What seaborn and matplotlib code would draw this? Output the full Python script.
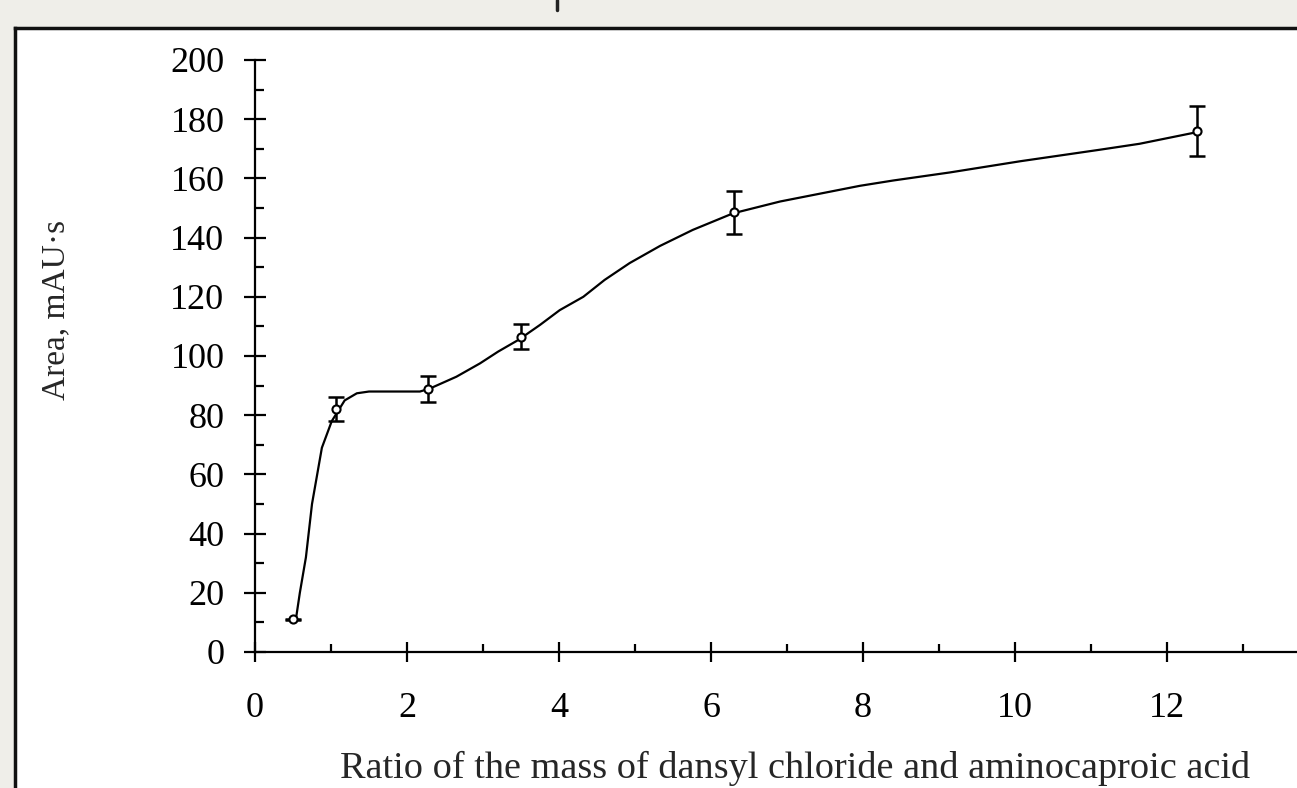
import numpy as np
import pandas as pd
import matplotlib
matplotlib.use("Agg")
import matplotlib.pyplot as plt
import seaborn as sns
from matplotlib.lines import Line2D
from matplotlib.ticker import MultipleLocator

# ---- data ----
point_x = [0.5, 1.07, 2.27, 3.5, 6.3, 12.4]
point_y = [11.0, 82.0, 89.0, 106.5, 148.5, 176.0]
point_err = [0.3, 4.0, 4.4, 4.3, 7.3, 8.5]

curve_x = [0.54, 0.59, 0.67, 0.75, 0.88, 1.01, 1.18, 1.34, 1.5, 2.17, 2.30, 2.65,
           2.96, 3.2, 3.47, 3.75, 4.01, 4.32, 4.6, 4.93, 5.33, 5.76, 6.29, 6.91,
           7.96, 8.4, 9.14, 10.07, 11.12, 11.64, 12.37]
curve_y = [11.4, 20.0, 32.0, 50.0, 69.0, 78.0, 85.0, 87.4, 88.0, 88.0, 89.0, 93.0,
           97.5, 101.5, 105.5, 110.5, 115.5, 120.0, 125.7, 131.4, 137.2, 142.6, 148.2, 152.2,
           157.5, 159.3, 162.0, 165.8, 169.7, 171.7, 175.5]

x_ticks = [0, 2, 4, 6, 8, 10, 12]
y_ticks = [0, 20, 40, 60, 80, 100, 120, 140, 160, 180, 200]

x_label = "Ratio of the mass of dansyl chloride and aminocaproic acid"
y_label = "Area, mAU\u00b7s"

# ---- style ----
sns.set_style("white")
plt.rcParams['font.family'] = ['Liberation Serif', 'DejaVu Serif']

W, H = 1297, 788
fig = plt.figure(figsize=(W / 100, H / 100), dpi=100)
fig.patch.set_facecolor('#efeee9')

# white panel with dark border (left/top) drawn as a background axes
bg = fig.add_axes([15 / W, -0.05, 1.2, 1 - 28 / H + 0.05], zorder=-5)
bg.set_facecolor('white')
bg.set_xticks([])
bg.set_yticks([])
for s in bg.spines.values():
    s.set_linewidth(2.5)
    s.set_color('#111111')

# fragment of cut-off title (descender only)
fig.add_artist(Line2D([557 / W, 557 / W], [1.0, 1 - 10 / H], transform=fig.transFigure,
                      color='#222222', linewidth=2.5))

left = 255 / W
bottom = 1 - 652 / H
top = 1 - 60 / H
ax = fig.add_axes([left, bottom, 1.0 - left, top - bottom], zorder=1)
ax.set_facecolor('none')

curve_df = pd.DataFrame({"x": curve_x, "y": curve_y})
sns.lineplot(data=curve_df, x="x", y="y", sort=False, color='black', linewidth=1.6,
             ax=ax, zorder=2)

ax.errorbar(point_x, point_y, yerr=point_err, fmt='none', ecolor='black',
            elinewidth=1.8, capsize=6, capthick=1.8, zorder=3)
pts_df = pd.DataFrame({"x": point_x, "y": point_y})
sns.scatterplot(data=pts_df, x="x", y="y", marker='o', s=34, facecolor='white',
                edgecolor='black', linewidth=1.5, ax=ax, zorder=4)

ax.set_xlim(0, (W - 255) / 76.0)
ax.set_ylim(0, 200)

for s in ['top', 'right']:
    ax.spines[s].set_visible(False)
for s in ['left', 'bottom']:
    ax.spines[s].set_linewidth(1.6)
    ax.spines[s].set_color('black')

ax.set_xticks(x_ticks)
ax.set_yticks(y_ticks)
ax.xaxis.set_minor_locator(MultipleLocator(1))
ax.yaxis.set_minor_locator(MultipleLocator(10))

ax.tick_params(bottom=True, left=True, which='both')
ax.tick_params(axis='y', which='major', direction='inout', length=16, width=1.6,
               labelsize=26, pad=14, colors='black')
ax.tick_params(axis='y', which='minor', direction='in', length=6.5, width=1.6,
               colors='black')
ax.tick_params(axis='x', which='major', direction='inout', length=14, width=1.6,
               labelsize=26, pad=22, colors='black')
ax.tick_params(axis='x', which='minor', direction='in', length=5.5, width=1.6,
               colors='black')

ax.set_xlabel("")
ax.set_ylabel("")
fig.text(795 / W, 1 - 768 / H, x_label, fontsize=27.5, ha='center', va='center')
fig.text(56 / W, 1 - 310 / H, y_label, fontsize=24, ha='center', va='center', rotation=90)

fig.savefig("out.png", dpi=100, facecolor=fig.get_facecolor())
